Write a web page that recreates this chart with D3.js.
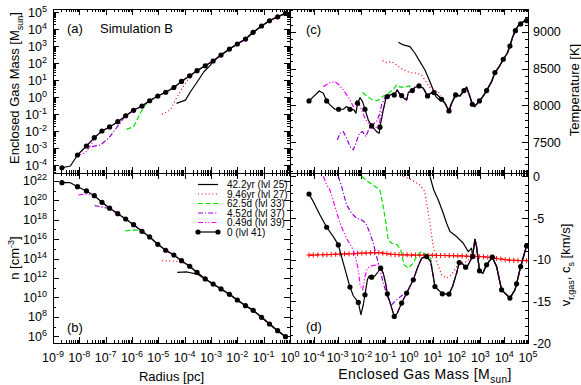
<!DOCTYPE html>
<html>
<head>
<meta charset="utf-8">
<script src="https://cdn.jsdelivr.net/npm/d3@7"></script>
<style>
body { margin: 0; background: #fff; }
text { font-family: "Liberation Sans", Arial, sans-serif; fill: #000; }
</style>
</head>
<body>
<svg id="chart" width="581" height="385"></svg>
<script>
// --- donnees (log10 pour les axes log) ---
// profil lvl 41 : rayon / masse / densite aux marqueurs
const logR41 = [-8.66,-8.07,-7.73,-7.43,-7.14,-6.85,-6.54,-6.24,-5.94,-5.62,-5.33,-5.02,-4.72,-4.41,-4.12,-3.81,-3.53,-3.22,-2.92,-2.62,-2.30,-2.00,-1.69,-1.40,-1.08,-0.78,-0.47,-0.17];
const logM41 = [-4.16,-3.41,-2.88,-2.39,-2.00,-1.76,-1.45,-1.10,-0.78,-0.53,-0.22,0.06,0.28,0.56,0.92,1.25,1.55,1.84,2.12,2.47,2.82,3.12,3.41,3.81,4.18,4.49,4.72,4.92];
const logN41 = [21.82,21.41,20.97,20.48,19.80,19.19,18.63,18.08,17.49,16.81,16.23,15.47,14.86,14.37,13.78,13.21,12.57,11.90,11.38,10.87,10.32,9.73,9.15,8.67,7.95,7.26,6.57,5.95];
const extraMass41 = [[-8.34,-4.06]];
const extraDens41 = [[-8.34,21.82]];

// panel (a) : masse enclose des autres sorties
const mass25 = [[-4.31,-0.37],[-3.97,-0.18],[-3.78,0.31],[-3.52,0.90],[-3.27,1.49],[-3.02,1.88]];
const mass27 = [[-4.86,-1.02],[-4.54,-0.76],[-4.35,-0.18],[-4.10,0.51],[-3.84,1.10],[-3.65,1.40]];
const mass33 = [[-6.21,-1.90],[-5.94,-1.75],[-5.75,-1.16],[-5.56,-0.57],[-5.37,-0.28],[-5.18,-0.10]];
const mass37 = [[-7.52,-2.92],[-7.20,-2.82],[-6.89,-2.43],[-6.51,-1.65],[-6.30,-1.20]];
const mass39 = [[-8.11,-3.47],[-7.77,-3.28],[-7.52,-2.72],[-7.45,-2.45]];

// panel (b) : densite
const dens25 = [[-4.28,12.57],[-3.91,12.62],[-3.53,12.40],[-3.22,11.90]];
const dens27 = [[-4.86,13.78],[-4.41,13.75],[-4.10,13.65],[-3.91,13.39]];
const dens33 = [[-6.25,16.85],[-5.94,16.95],[-5.68,16.88]];
const dens37 = [[-7.42,19.45],[-7.20,19.35],[-6.97,19.22]];
const dens39 = [[-8.03,20.56],[-7.77,20.66],[-7.46,20.50]];

// panel (c) : temperature vs masse enclose
const tempMarks41 = [[-4.20,8060],[-3.46,8060],[-2.96,7947],[-2.48,7947],[-2.16,8029],[-1.85,7947],[-1.57,7720],[-1.22,7702],[-0.91,8119],[-0.62,8142],[-0.31,8133],[0.14,8201],[0.42,8265],[0.78,8128],[1.05,8174],[1.37,8083],[1.68,7924],[1.96,8142],[2.31,8201],[2.66,8015],[2.96,8060],[3.26,8201],[3.61,8446],[3.96,8628],[4.24,8809],[4.47,9018],[4.69,9109],[4.94,9154]];
const tempBetween41 = [[-3.77,8196],[-3.60,8165],[-3.32,8006],[-3.11,7947],[-2.76,7947],[-2.62,7983],[-2.31,7938],[-2.23,7893],[-2.06,8105],[-1.95,8051],[-1.71,7801],[-1.36,7642],[-1.25,7620],[-1.08,7938],[-0.97,8097],[-0.73,8151],[-0.49,8210],[-0.41,8165],[-0.21,8097],[-0.10,8074],[-0.03,8174],[0.25,8247],[0.60,8233],[0.91,8165],[1.19,8142],[1.51,8029],[1.79,8029],[2.14,8128],[2.42,8247],[2.56,8119],[2.75,7983],[3.10,8119],[3.47,8323],[3.79,8527],[4.13,8710],[4.36,8936],[4.58,9082],[4.80,9140]];
const temp25 = [[-0.45,8860],[-0.24,8823],[0.04,8800],[0.25,8710],[0.46,8596],[0.67,8482],[0.85,8346],[0.99,8233],[1.13,8119],[1.27,8074]];
const temp27 = [[-1.11,8609],[-0.94,8582],[-0.73,8596],[-0.52,8551],[-0.24,8482],[0.04,8446],[0.32,8437],[0.53,8414],[0.67,8346],[0.85,8255],[1.02,8201],[1.23,8187]];
const temp33 = [[-1.95,8174],[-1.75,8119],[-1.57,8083],[-1.36,8065],[-1.22,8083],[-1.08,8128],[-0.94,8142],[-0.66,8219],[-0.52,8278],[-0.37,8247],[-0.19,8247],[0.02,8265]];
const temp37 = [[-3.01,7529],[-2.90,7620],[-2.76,7642],[-2.62,7552],[-2.48,7438],[-2.34,7393],[-2.23,7484],[-2.09,7620],[-1.95,7642],[-1.81,7574],[-1.67,7688],[-1.50,7747],[-1.36,7779],[-1.25,7870],[-1.15,8006],[-1.01,8111]];
const temp39 = [[-3.60,8255],[-3.32,8310],[-3.11,8323],[-2.93,8278],[-2.76,8210],[-2.62,8142],[-2.48,8074],[-2.34,7983],[-2.17,8074],[-1.99,7938],[-1.85,7825],[-1.71,7757],[-1.53,7688],[-1.36,7702],[-1.25,7757],[-1.13,7938]];

// panel (d) : vitesse radiale vs masse enclose
const velMarks41 = [[-4.20,-2.12],[-3.46,-6.11],[-2.97,-8.23],[-2.48,-13.29],[-2.13,-15.13],[-1.85,-14.21],[-1.57,-12.10],[-1.19,-11.02],[-0.91,-14.10],[-0.62,-16.81],[-0.31,-15.21],[-0.10,-14.01],[0.18,-12.42],[0.74,-9.63],[1.09,-13.22],[1.40,-14.10],[1.68,-14.13],[2.11,-10.35],[2.38,-10.90],[2.67,-9.63],[2.96,-11.34],[3.26,-10.62],[3.50,-9.70],[3.89,-13.62],[4.24,-14.61],[4.52,-12.90],[4.69,-10.83],[4.94,-8.35]];
const velBetween41 = [[-4.02,-3.04],[-3.74,-4.63],[-3.18,-7.23],[-2.76,-10.42],[-2.34,-14.33],[-2.02,-16.6],[-1.92,-15.41],[-1.75,-12.42],[-1.67,-11.94],[-1.43,-11.94],[-1.29,-11.42],[-1.08,-11.62],[-0.97,-13.02],[-0.77,-15.41],[-0.49,-16.41],[0.35,-11.02],[0.53,-9.82],[0.91,-10.23],[1.02,-12.02],[1.23,-13.62],[1.83,-13.22],[2.00,-11.62],[2.25,-10.50],[2.49,-10.62],[2.77,-7.55],[2.84,-8.43],[3.10,-11.62],[3.68,-10.83],[4.45,-13.62]];
const vel25 = [[0.88,0.0],[1.04,-1.64],[1.23,-2.84],[1.44,-4.43],[1.58,-5.63],[1.72,-6.63],[2.00,-7.23],[2.28,-8.03],[2.49,-9.03],[2.63,-8.63]];
const vel27 = [[-0.24,0.0],[0.11,-0.44],[0.46,-1.04],[0.66,-1.8],[0.74,-3.23],[0.88,-5.63],[1.02,-8.43],[1.19,-10.42],[1.37,-11.82],[1.58,-12.22],[1.79,-11.82],[2.00,-10.83],[2.21,-10.35],[2.42,-10.23],[2.60,-9.8]];
const vel33 = [[-1.99,0.0],[-1.71,-0.65],[-1.22,-1.64],[-1.08,-3.64],[-0.97,-5.63],[-0.87,-7.63],[-0.73,-8.03],[-0.49,-8.23],[-0.35,-8.83],[-0.21,-10.62],[-0.03,-11.02],[0.18,-10.42],[0.35,-9.42],[0.53,-9.03],[0.74,-9.42],[0.91,-9.82]];
const vel37 = [[-2.97,0.0],[-2.83,-1.24],[-2.62,-3.44],[-2.41,-4.43],[-2.20,-5.03],[-1.99,-5.23],[-1.81,-5.63],[-1.64,-6.83],[-1.50,-8.03],[-1.36,-9.63],[-1.22,-11.22],[-1.08,-12.81],[-0.91,-14.42],[-0.73,-15.41],[-0.52,-14.81],[-0.31,-14.33]];
const vel39 = [[-3.60,0.0],[-3.46,-1.04],[-3.32,-1.64],[-3.11,-3.64],[-2.90,-5.63],[-2.69,-7.03],[-2.55,-7.83],[-2.41,-8.43],[-2.27,-9.42],[-2.13,-11.22],[-2.06,-13.02],[-1.95,-13.62],[-1.85,-12.02],[-1.75,-11.02],[-1.57,-10.74],[-1.29,-10.62]];
// vitesse du son (c_s, en negatif)
const csMass = [-4.20,-4.02,-3.83,-3.62,-3.45,-3.27,-3.08,-2.90,-2.71,-2.52,-2.33,-2.16,-1.98,-1.80,-1.62,-1.45,-1.27,-1.10,-0.93,-0.76,-0.59,-0.42,-0.25,-0.08,0.10,0.27,0.45,0.62,0.80,0.98,1.15,1.33,1.51,1.69,1.87,2.05,2.23,2.41,2.59,2.77,2.95,3.13,3.31,3.50,3.68,3.86,4.04,4.22,4.40,4.58,4.76,4.94];
const csVel = [-9.45,-9.45,-9.42,-9.40,-9.40,-9.38,-9.35,-9.33,-9.30,-9.30,-9.28,-9.25,-9.22,-9.20,-9.18,-9.15,-9.15,-9.22,-9.28,-9.35,-9.38,-9.40,-9.42,-9.42,-9.45,-9.45,-9.45,-9.45,-9.48,-9.48,-9.50,-9.50,-9.50,-9.52,-9.52,-9.55,-9.55,-9.58,-9.60,-9.60,-9.62,-9.65,-9.70,-9.75,-9.85,-9.92,-10.0,-10.05,-10.08,-10.1,-10.12,-10.12];

const legendLabels = ["42.2yr (lvl 25)", "9.46yr (lvl 27)", "62.5d (lvl 33)", "4.52d (lvl 37)", "0.49d (lvl 39)", "0 (lvl 41)"];
const tempTicks = [7500, 8000, 8500, 9000];
const velTicks = [0, -5, -10, -15, -20];

// styles des sorties (meme ordre que la legende)
const styles = [
  { color: "#000000", dash: null },
  { color: "#ff0000", dash: "1,2.6" },
  { color: "#00e400", dash: "5,2.5" },
  { color: "#9400d3", dash: "5,2,1.2,2" },
  { color: "#ff00ff", dash: "5,2,1.2,2,1.2,2" },
  { color: "#000000", dash: null }
];

const p10 = v => Math.pow(10, v);
const svg = d3.select("#chart");

// echelles
const xR = d3.scaleLog().domain([1e-9, 1]).range([53, 290]);
const xM = d3.scaleLog().domain([1e-5, 1e5]).range([290, 528]);
const yM = d3.scaleLog().domain([p10(-4.47), p10(5.18)]).range([173, 9]);
const yN = d3.scaleLog().domain([p10(5.3), p10(22.82)]).range([343, 173]);
const yT = d3.scaleLinear().domain([7078, 9313]).range([173, 9]);
const yV = d3.scaleLinear().domain([-20, 0.4]).range([343, 173]);

function sortX(a) { return a.slice().sort((p, q) => p[0] - q[0]); }
function join(own, base) {
  const last = own[own.length - 1][0];
  return own.concat(base.filter(p => p[0] > last));
}
const zip = (a, b) => a.map((v, i) => [v, b[i]]);

// ticks log : majeurs aux decades, mineurs 2..9
function logTicks(scale, step) {
  const [a, b] = scale.domain().map(Math.log10);
  const major = [], minor = [];
  for (let d = Math.floor(a); d <= Math.ceil(b); d++) {
    for (let k = 1; k < 10; k++) {
      const lv = Math.log10(k * p10(d));
      if (lv < a - 1e-6 || lv > b + 1e-6) continue;
      if (k === 1 && d % step === 0) major.push(k * p10(d));
      else if (step === 1 || k === 1) minor.push(k * p10(d));
    }
  }
  return { major, minor };
}
function linTicks(scale, maj, min) {
  const [a, b] = scale.domain();
  const major = [], minor = [];
  for (let v = Math.ceil(a / min) * min; v <= b + 1e-9; v += min) {
    const r = Math.round(v);
    if (r % maj === 0) major.push(r); else minor.push(r);
  }
  return { major, minor };
}

function drawPanel(id, xs, ys, xt, yt) {
  const [x0, x1] = xs.range();
  const [yb, ytp] = ys.range();
  const g = svg.append("g").attr("class", "panel-" + id);
  svg.append("clipPath").attr("id", "clip-" + id)
    .append("rect").attr("x", x0).attr("y", ytp).attr("width", x1 - x0).attr("height", yb - ytp);
  const ticks = g.append("g").attr("stroke", "#000").attr("stroke-width", 1);
  const tick = (x1_, y1_, x2_, y2_) => ticks.append("line")
    .attr("x1", x1_).attr("y1", y1_).attr("x2", x2_).attr("y2", y2_);
  [["major", 6], ["minor", 3]].forEach(([k, len]) => {
    xt[k].forEach(v => {
      const x = Math.round(xs(v)) + 0.5;
      tick(x, yb, x, yb - len);
      tick(x, ytp, x, ytp + len);
    });
    yt[k].forEach(v => {
      const y = Math.round(ys(v)) + 0.5;
      tick(x0, y, x0 + len, y);
      tick(x1, y, x1 - len, y);
    });
  });
  g.append("rect").attr("x", x0 + 0.5).attr("y", ytp + 0.5)
    .attr("width", x1 - x0).attr("height", yb - ytp)
    .attr("fill", "none").attr("stroke", "#000").attr("stroke-width", 1);
  const plot = svg.append("g").attr("clip-path", `url(#clip-${id})`);
  return plot;
}

function drawLine(plot, data, fx, fy, st) {
  plot.append("path")
    .datum(data)
    .attr("fill", "none")
    .attr("stroke", st.color)
    .attr("stroke-width", 1.2)
    .attr("stroke-dasharray", st.dash)
    .attr("stroke-linejoin", "round")
    .attr("d", d3.line().x(d => fx(d[0])).y(d => fy(d[1])));
}
function drawDots(plot, data, fx, fy) {
  plot.selectAll(null).data(data).enter().append("circle")
    .attr("cx", d => fx(d[0])).attr("cy", d => fy(d[1]))
    .attr("r", 2.6).attr("fill", "#000");
}

function powLabel(sel, exp) {
  sel.append("tspan").text("10");
  sel.append("tspan").attr("dy", -5).attr("font-size", 9).text(exp);
}

// ---------- panel (a) ----------
const pa = drawPanel("a", xR, yM, logTicks(xR, 1), logTicks(yM, 1));
const fxA = v => xR(p10(v)), fyA = v => yM(p10(v));
const line41a = sortX(zip(logR41, logM41).concat(extraMass41));
[mass25, mass27, mass33, mass37, mass39].forEach((s, i) => drawLine(pa, join(s, line41a), fxA, fyA, styles[i]));
drawLine(pa, line41a, fxA, fyA, styles[5]);
drawDots(pa, zip(logR41, logM41), fxA, fyA);

// ---------- panel (b) ----------
const pb = drawPanel("b", xR, yN, logTicks(xR, 1), logTicks(yN, 2));
const fyB = v => yN(p10(v));
const line41b = sortX(zip(logR41, logN41).concat(extraDens41));
[dens25, dens27, dens33, dens37, dens39].forEach((s, i) => drawLine(pb, join(s, line41b), fxA, fyB, styles[i]));
drawLine(pb, line41b, fxA, fyB, styles[5]);
drawDots(pb, zip(logR41, logN41), fxA, fyB);

// ---------- panel (c) ----------
const pc = drawPanel("c", xM, yT, logTicks(xM, 1), linTicks(yT, 500, 100));
const fxC = v => xM(p10(v));
const line41c = sortX(tempMarks41.concat(tempBetween41));
[temp25, temp27, temp33, temp37, temp39].forEach((s, i) => drawLine(pc, join(s, line41c), fxC, yT, styles[i]));
drawLine(pc, line41c, fxC, yT, styles[5]);
drawDots(pc, tempMarks41, fxC, yT);

// ---------- panel (d) ----------
const pd = drawPanel("d", xM, yV, logTicks(xM, 1), linTicks(yV, 5, 1));
const line41d = sortX(velMarks41.concat(velBetween41));
// c_s : tirets rouges avec des +
const csData = zip(csMass, csVel);
drawLine(pd, csData, fxC, yV, { color: "#ff0000", dash: "4,2" });
pd.selectAll(null).data(csData).enter().append("path")
  .attr("d", d => { const x = fxC(d[0]), y = yV(d[1]); return `M${x - 2.5},${y}H${x + 2.5}M${x},${y - 2.5}V${y + 2.5}`; })
  .attr("stroke", "#ff0000").attr("stroke-width", 1);
[vel25, vel27, vel33, vel37, vel39].forEach((s, i) => drawLine(pd, join(s, line41d), fxC, yV, styles[i]));
drawLine(pd, line41d, fxC, yV, styles[5]);
drawDots(pd, velMarks41, fxC, yV);

// ---------- libelles des axes ----------
const fs = 12.5;
// x du bas
d3.range(-9, 1).forEach(e => {
  const t = svg.append("text").attr("x", xR(p10(e))).attr("y", 362)
    .attr("text-anchor", "middle").attr("font-size", fs);
  powLabel(t, e);
});
d3.range(-4, 6).forEach(e => {
  const t = svg.append("text").attr("x", xM(p10(e))).attr("y", 362)
    .attr("text-anchor", "middle").attr("font-size", fs);
  powLabel(t, e);
});
// y gauche
d3.range(-4, 6).forEach(e => {
  const t = svg.append("text").attr("x", 47).attr("y", yM(p10(e)) + 4.5)
    .attr("text-anchor", "end").attr("font-size", fs);
  powLabel(t, e);
});
d3.range(6, 23, 2).forEach(e => {
  const t = svg.append("text").attr("x", 47).attr("y", yN(p10(e)) + 4.5)
    .attr("text-anchor", "end").attr("font-size", fs);
  powLabel(t, e);
});
// y droite
tempTicks.forEach(v => svg.append("text").attr("x", 533).attr("y", yT(v) + 4.5)
  .attr("font-size", fs).text(v));
velTicks.forEach(v => svg.append("text").attr("x", 533).attr("y", yV(v) + 4.5)
  .attr("font-size", fs).text(v));

// titres
const ts = 13;
svg.append("text").attr("x", 171.5).attr("y", 381).attr("text-anchor", "middle")
  .attr("font-size", ts).text("Radius [pc]");
const tx = svg.append("text").attr("x", 425).attr("y", 379).attr("text-anchor", "middle")
  .attr("font-size", 14).attr("letter-spacing", 0.4);
tx.append("tspan").text("Enclosed Gas Mass [M");
tx.append("tspan").attr("dy", 3.5).attr("font-size", 10).text("sun");
tx.append("tspan").attr("dy", -3.5).text("]");

const ty1 = svg.append("text").attr("transform", "translate(19,88) rotate(-90)")
  .attr("text-anchor", "middle").attr("font-size", ts);
ty1.append("tspan").text("Enclosed Gas Mass [M");
ty1.append("tspan").attr("dy", 3.5).attr("font-size", 9).text("sun");
ty1.append("tspan").attr("dy", -3.5).text("]");

const ty2 = svg.append("text").attr("transform", "translate(19,258) rotate(-90)")
  .attr("text-anchor", "middle").attr("font-size", ts);
ty2.append("tspan").text("n [cm");
ty2.append("tspan").attr("dy", -5).attr("font-size", 9).text("-3");
ty2.append("tspan").attr("dy", 5).text("]");

svg.append("text").attr("transform", "translate(579,90) rotate(-90)")
  .attr("text-anchor", "middle").attr("font-size", ts).text("Temperature [K]");

const ty4 = svg.append("text").attr("transform", "translate(570,265) rotate(-90)")
  .attr("text-anchor", "middle").attr("font-size", ts);
ty4.append("tspan").text("v");
ty4.append("tspan").attr("dy", 3.5).attr("font-size", 9).text("r,gas");
ty4.append("tspan").attr("dy", -3.5).text(", c");
ty4.append("tspan").attr("dy", 3.5).attr("font-size", 9).text("s");
ty4.append("tspan").attr("dy", -3.5).text(" [km/s]");

// etiquettes des panneaux
svg.append("text").attr("x", 67).attr("y", 33).attr("font-size", 13).text("(a)");
svg.append("text").attr("x", 100).attr("y", 33).attr("font-size", 13).text("Simulation B");
svg.append("text").attr("x", 306).attr("y", 34).attr("font-size", 13).text("(c)");
svg.append("text").attr("x", 67).attr("y", 332).attr("font-size", 13).text("(b)");
svg.append("text").attr("x", 306).attr("y", 331).attr("font-size", 13).text("(d)");

// legende (dans le panneau b)
const leg = svg.append("g");
legendLabels.forEach((lab, i) => {
  const y = 184.5 + i * 9.5;
  leg.append("line").attr("x1", 198).attr("x2", 218).attr("y1", y).attr("y2", y)
    .attr("stroke", styles[i].color).attr("stroke-width", 1.2)
    .attr("stroke-dasharray", styles[i].dash);
  if (i === 5) {
    [198, 218].forEach(x => leg.append("circle").attr("cx", x).attr("cy", y).attr("r", 2.6).attr("fill", "#000"));
  }
  leg.append("text").attr("x", 227).attr("y", y + 3.5).attr("font-size", 10).text(lab);
});
</script>
</body>
</html>
